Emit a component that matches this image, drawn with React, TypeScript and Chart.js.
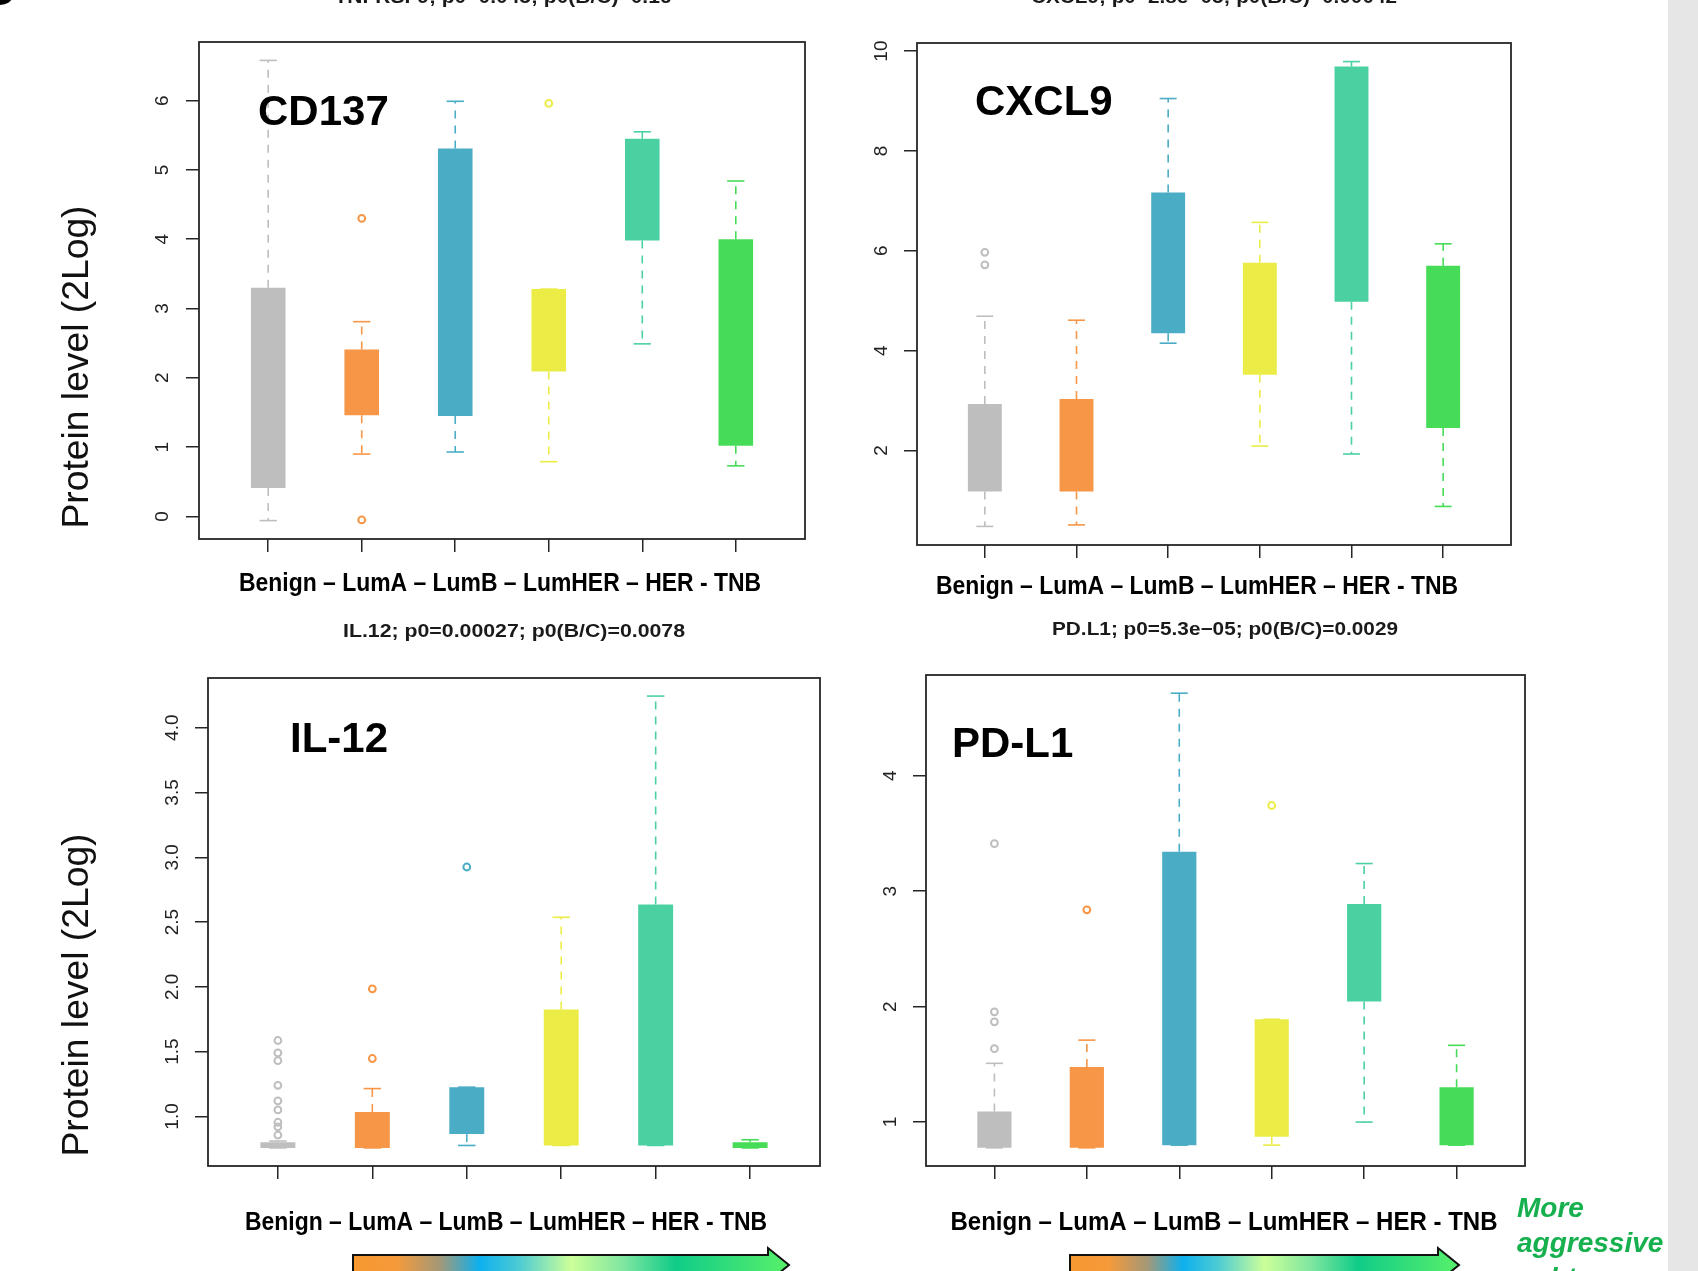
import React, { useEffect, useRef } from "react";
import { Chart, registerables } from "chart.js";

Chart.register(...registerables);

const PAGE_W = 1698;
const PAGE_H = 1271;

// ---------- data ----------
const groups = ["Benign", "LumA", "LumB", "LumHER", "HER", "TNB"];
const groupColors = ["#bebebe", "#f79646", "#4bacc6", "#ecec46", "#4bd1a1", "#47dc58"];
const xAxisText = "Benign \u2013 LumA \u2013 LumB \u2013 LumHER \u2013 HER - TNB";
const yAxisText = "Protein level (2Log)";

// CD137 (TNFRSF9)
const cd137Low = [-0.06, 0.9, 0.93, 0.79, 2.49, 0.73];
const cd137Q1 = [0.41, 1.46, 1.45, 2.09, 3.98, 1.02];
const cd137Q3 = [3.3, 2.41, 5.31, 3.28, 5.45, 4.0];
const cd137High = [6.58, 2.81, 5.99, 3.28, 5.55, 4.84];
const cd137OutGroup = [1, 1, 3];
const cd137OutValue = [4.3, -0.05, 5.96];
const cd137Ticks = [0, 1, 2, 3, 4, 5, 6];
const cd137TickLabels = ["0", "1", "2", "3", "4", "5", "6"];

// CXCL9
const cxcl9Low = [0.48, 0.51, 4.15, 2.09, 1.93, 0.88];
const cxcl9Q1 = [1.18, 1.18, 4.35, 3.52, 4.98, 2.45];
const cxcl9Q3 = [2.93, 3.03, 7.17, 5.76, 9.69, 5.7];
const cxcl9High = [4.69, 4.61, 9.05, 6.57, 9.79, 6.14];
const cxcl9OutGroup = [0, 0];
const cxcl9OutValue = [5.97, 5.72];
const cxcl9Ticks = [2, 4, 6, 8, 10];
const cxcl9TickLabels = ["2", "4", "6", "8", "10"];

// IL-12
const il12Low = [0.757, 0.757, 0.776, 0.776, 0.776, 0.757];
const il12Q1 = [0.757, 0.757, 0.864, 0.776, 0.776, 0.757];
const il12Q3 = [0.8, 1.034, 1.226, 1.826, 2.636, 0.8];
const il12High = [0.81, 1.215, 1.226, 2.537, 4.244, 0.82];
const il12OutGroup = [0, 0, 0, 0, 0, 0, 0, 0, 0, 1, 1, 2];
const il12OutValue = [1.586, 1.49, 1.43, 1.24, 1.12, 1.05, 0.955, 0.92, 0.856, 1.985, 1.447, 2.925];
const il12Ticks = [1.0, 1.5, 2.0, 2.5, 3.0, 3.5, 4.0];
const il12TickLabels = ["1.0", "1.5", "2.0", "2.5", "3.0", "3.5", "4.0"];

// PD-L1
const pdl1Low = [0.777, 0.777, 0.8, 0.8, 1.0, 0.8];
const pdl1Q1 = [0.777, 0.777, 0.8, 0.873, 2.044, 0.8];
const pdl1Q3 = [1.092, 1.477, 3.342, 1.891, 2.89, 1.302];
const pdl1High = [1.509, 1.71, 4.716, 1.891, 3.24, 1.665];
const pdl1OutGroup = [0, 0, 0, 0, 1, 3];
const pdl1OutValue = [3.412, 1.955, 1.869, 1.636, 2.839, 3.743];
const pdl1Ticks = [1, 2, 3, 4];
const pdl1TickLabels = ["1", "2", "3", "4"];

// ---------- layout / style ----------
const FONT = '"Liberation Sans", Arial, Helvetica, sans-serif';
const AXIS_COLOR = "#262626";
const BOX_FRACTION = 0.37;
const CAP_HALF = BOX_FRACTION / 4;
const TICK_LEN = 13;
const Y_AXIS_W = 80;
const X_AXIS_H = 40;
const TICK_FONT_SIZE = 19;

type Area = { left: number; top: number; right: number; bottom: number };
type PanelDef = {
  id: string;
  low: number[];
  q1: number[];
  q3: number[];
  high: number[];
  outGroup: number[];
  outValue: number[];
  ticks: number[];
  tickLabels: string[];
  area: Area;
  tickPad: number;
  title: string;
  titleX: number;
  titleBase: number;
  titleWidth: number;
  gene: string;
  geneX: number;
  geneBase: number;
  xLabelX: number;
  xLabelBase: number;
  xLabelWidth: number;
  yTitle?: { x: number; y: number; width: number };
};

const panels: PanelDef[] = [
  {
    id: "cd137",
    low: cd137Low, q1: cd137Q1, q3: cd137Q3, high: cd137High,
    outGroup: cd137OutGroup, outValue: cd137OutValue,
    ticks: cd137Ticks, tickLabels: cd137TickLabels,
    area: { left: 199, top: 42, right: 805, bottom: 539 },
    tickPad: 18,
    title: "TNFRSF9; p0=0.045; p0(B/C)=0.16",
    titleX: 503, titleBase: 2.5, titleWidth: 337,
    gene: "CD137", geneX: 258, geneBase: 125,
    xLabelX: 500, xLabelBase: 591, xLabelWidth: 522,
    yTitle: { x: 78, y: 367, width: 323 },
  },
  {
    id: "cxcl9",
    low: cxcl9Low, q1: cxcl9Q1, q3: cxcl9Q3, high: cxcl9High,
    outGroup: cxcl9OutGroup, outValue: cxcl9OutValue,
    ticks: cxcl9Ticks, tickLabels: cxcl9TickLabels,
    area: { left: 917, top: 43, right: 1511, bottom: 545 },
    tickPad: 11.5,
    title: "CXCL9; p0=2.8e\u221205; p0(B/C)=0.00042",
    titleX: 1214, titleBase: 2.5, titleWidth: 366,
    gene: "CXCL9", geneX: 975, geneBase: 115,
    xLabelX: 1197, xLabelBase: 594, xLabelWidth: 522,
  },
  {
    id: "il12",
    low: il12Low, q1: il12Q1, q3: il12Q3, high: il12High,
    outGroup: il12OutGroup, outValue: il12OutValue,
    ticks: il12Ticks, tickLabels: il12TickLabels,
    area: { left: 208, top: 678, right: 820, bottom: 1166 },
    tickPad: 9,
    title: "IL.12; p0=0.00027; p0(B/C)=0.0078",
    titleX: 514, titleBase: 637, titleWidth: 342,
    gene: "IL-12", geneX: 290, geneBase: 752,
    xLabelX: 506, xLabelBase: 1230, xLabelWidth: 522,
    yTitle: { x: 78, y: 995, width: 323 },
  },
  {
    id: "pdl1",
    low: pdl1Low, q1: pdl1Q1, q3: pdl1Q3, high: pdl1High,
    outGroup: pdl1OutGroup, outValue: pdl1OutValue,
    ticks: pdl1Ticks, tickLabels: pdl1TickLabels,
    area: { left: 926, top: 675, right: 1525, bottom: 1166 },
    tickPad: 16.5,
    title: "PD.L1; p0=5.3e\u221205; p0(B/C)=0.0029",
    titleX: 1225, titleBase: 635, titleWidth: 346,
    gene: "PD-L1", geneX: 952, geneBase: 757,
    xLabelX: 1224, xLabelBase: 1230, xLabelWidth: 547,
  },
];

function drawText(
  ctx: CanvasRenderingContext2D,
  text: string,
  x: number,
  y: number,
  font: string,
  color: string,
  opts: { width?: number; align?: CanvasTextAlign; baseline?: CanvasTextBaseline; rotate?: number } = {}
) {
  ctx.save();
  ctx.font = font;
  ctx.fillStyle = color;
  ctx.textAlign = opts.align || "center";
  ctx.textBaseline = opts.baseline || "alphabetic";
  ctx.translate(x, y);
  if (opts.rotate) ctx.rotate(opts.rotate);
  if (opts.width) {
    const w = ctx.measureText(text).width;
    if (w > 0) ctx.scale(opts.width / w, 1);
  }
  ctx.fillText(text, 0, 0);
  ctx.restore();
}

const panelTextPlugin = {
  id: "panelText",
  afterDraw(chart: any, _args: any, opts: any) {
    const def: PanelDef = opts.def;
    if (!def) return;
    const ctx: CanvasRenderingContext2D = chart.ctx;
    const a = chart.chartArea;
    // frame around plot region
    ctx.save();
    ctx.strokeStyle = AXIS_COLOR;
    ctx.lineWidth = 1.8;
    ctx.strokeRect(a.left, a.top, a.right - a.left, a.bottom - a.top);
    ctx.restore();
    // panel title (statistics)
    drawText(ctx, def.title, def.titleX, def.titleBase, `bold 18px ${FONT}`, "#1a1a1a", {
      width: def.titleWidth,
    });
    // big gene label
    drawText(ctx, def.gene, def.geneX, def.geneBase, `bold 42px ${FONT}`, "#000", { align: "left" });
    // category label
    drawText(ctx, xAxisText, def.xLabelX, def.xLabelBase, `bold 25px ${FONT}`, "#000", {
      width: def.xLabelWidth,
    });
    // y-axis title
    if (def.yTitle) {
      drawText(ctx, yAxisText, def.yTitle.x, def.yTitle.y, `36px ${FONT}`, "#111", {
        width: def.yTitle.width,
        baseline: "middle",
        rotate: -Math.PI / 2,
      });
    }
  },
};

function buildConfig(def: PanelDef): any {
  const n = groups.length;
  const all = [...def.low, ...def.high, ...def.outValue];
  const lo = Math.min(...all);
  const hi = Math.max(...all);
  const yExt = (hi - lo) * 0.04;
  const xExt = n * 0.04;

  const boxData = groups.map((_, i) => ({ x: i + 1, y: [def.q1[i], def.q3[i]] }));
  const stemData: any[] = [];
  const capData: any[] = [];
  groups.forEach((_, i) => {
    const c = i + 1;
    stemData.push(
      { x: c, y: def.q3[i] }, { x: c, y: def.high[i] }, { x: c, y: null },
      { x: c, y: def.q1[i] }, { x: c, y: def.low[i] }, { x: c, y: null }
    );
    capData.push(
      { x: c - CAP_HALF, y: def.high[i] }, { x: c + CAP_HALF, y: def.high[i] }, { x: c, y: null },
      { x: c - CAP_HALF, y: def.low[i] }, { x: c + CAP_HALF, y: def.low[i] }, { x: c, y: null }
    );
  });
  const outData = def.outGroup.map((g, k) => ({ x: g + 1, y: def.outValue[k] }));
  const outColors = def.outGroup.map((g) => groupColors[g]);
  const segColor = (ctx: any) => groupColors[Math.floor(ctx.p0DataIndex / 6)];

  const gridOpts = {
    display: true,
    drawOnChartArea: false,
    drawTicks: true,
    tickLength: TICK_LEN,
    color: AXIS_COLOR,
    lineWidth: 1.5,
    offset: false,
  };

  return {
    type: "bar",
    data: {
      datasets: [
        {
          type: "scatter",
          label: "outliers",
          data: outData,
          pointStyle: "circle",
          pointRadius: 3.4,
          pointBorderWidth: 2,
          pointBorderColor: outColors,
          pointBackgroundColor: "rgba(0,0,0,0)",
          order: 0,
        },
        {
          type: "bar",
          label: "box",
          data: boxData,
          backgroundColor: groupColors,
          borderWidth: 0,
          barPercentage: BOX_FRACTION,
          categoryPercentage: 1,
          order: 1,
        },
        {
          type: "line",
          label: "whiskers",
          data: stemData,
          borderColor: groupColors[0],
          borderWidth: 1.6,
          borderDash: [8, 7],
          borderCapStyle: "butt",
          pointRadius: 0,
          spanGaps: false,
          tension: 0,
          segment: { borderColor: segColor },
          order: 2,
        },
        {
          type: "line",
          label: "caps",
          data: capData,
          borderColor: groupColors[0],
          borderWidth: 1.6,
          borderCapStyle: "butt",
          pointRadius: 0,
          spanGaps: false,
          tension: 0,
          segment: { borderColor: segColor },
          order: 2,
        },
      ],
    },
    options: {
      responsive: false,
      maintainAspectRatio: false,
      animation: false,
      events: [],
      devicePixelRatio: 1,
      layout: {
        padding: {
          left: def.area.left - Y_AXIS_W,
          top: def.area.top,
          right: PAGE_W - def.area.right,
          bottom: PAGE_H - def.area.bottom - X_AXIS_H,
        },
      },
      plugins: {
        legend: { display: false },
        tooltip: { enabled: false },
        title: { display: false },
        panelText: { def },
      },
      scales: {
        x: {
          type: "linear",
          position: "bottom",
          min: 0.5 - xExt,
          max: n + 0.5 + xExt,
          offset: false,
          grid: gridOpts,
          border: { display: false },
          ticks: { display: false, autoSkip: false },
          afterBuildTicks: (scale: any) => {
            scale.ticks = groups.map((_, i) => ({ value: i + 1 }));
          },
          afterFit: (scale: any) => {
            scale.height = X_AXIS_H;
          },
        },
        y: {
          type: "linear",
          position: "left",
          min: lo - yExt,
          max: hi + yExt,
          beginAtZero: false,
          grid: gridOpts,
          border: { display: false },
          ticks: {
            autoSkip: false,
            minRotation: 90,
            maxRotation: 90,
            crossAlign: "center",
            padding: def.tickPad,
            color: "#222",
            font: { family: FONT, size: TICK_FONT_SIZE },
            callback: (_v: any, i: number) => def.tickLabels[i],
          },
          afterBuildTicks: (scale: any) => {
            scale.ticks = def.ticks.map((v) => ({ value: v }));
          },
          afterFit: (scale: any) => {
            scale.width = Y_AXIS_W;
          },
        },
      },
    },
    plugins: [panelTextPlugin],
  };
}

function PanelChart({ def }: { def: PanelDef }) {
  const ref = useRef<HTMLCanvasElement>(null);
  useEffect(() => {
    if (!ref.current) return;
    const chart = new Chart(ref.current, buildConfig(def));
    return () => chart.destroy();
  }, [def]);
  return (
    <canvas
      ref={ref}
      width={PAGE_W}
      height={PAGE_H}
      style={{ position: "absolute", left: 0, top: 0, width: PAGE_W, height: PAGE_H }}
    />
  );
}

function Arrow({ x0, x1, id }: { x0: number; x1: number; id: string }) {
  const head = 21;
  const yc = 1265;
  const pts = [
    [x0, yc - 10],
    [x1 - head, yc - 10],
    [x1 - head, yc - 17],
    [x1, yc],
    [x1 - head, yc + 17],
    [x1 - head, yc + 10],
    [x0, yc + 10],
  ]
    .map((p) => p.join(","))
    .join(" ");
  return (
    <g>
      <defs>
        <linearGradient id={id} x1="0" y1="0" x2="1" y2="0">
          <stop offset="0" stopColor="#f7982f" />
          <stop offset="0.1" stopColor="#f59a3a" />
          <stop offset="0.2" stopColor="#a39878" />
          <stop offset="0.29" stopColor="#0db0ee" />
          <stop offset="0.38" stopColor="#4ccbd4" />
          <stop offset="0.5" stopColor="#ccff99" />
          <stop offset="0.62" stopColor="#7fe6a0" />
          <stop offset="0.74" stopColor="#10cc88" />
          <stop offset="1" stopColor="#58f06a" />
        </linearGradient>
      </defs>
      <polygon points={pts} fill={`url(#${id})`} stroke="#111" strokeWidth={2} strokeLinejoin="miter" />
    </g>
  );
}

export default function App() {
  return (
    <div
      style={{
        position: "absolute",
        left: 0,
        top: 0,
        width: PAGE_W,
        height: PAGE_H,
        overflow: "hidden",
        background: "#ffffff",
      }}
    >
      {panels.map((p) => (
        <PanelChart key={p.id} def={p} />
      ))}
      <svg
        width={PAGE_W}
        height={PAGE_H}
        style={{ position: "absolute", left: 0, top: 0, pointerEvents: "none" }}
      >
        <Arrow x0={353} x1={789} id="gradL" />
        <Arrow x0={1070} x1={1459} id="gradR" />
      </svg>
      <div
        style={{
          position: "absolute",
          left: 1517,
          top: 1190,
          width: 160,
          fontFamily: FONT,
          fontWeight: "bold",
          fontStyle: "italic",
          fontSize: 28,
          lineHeight: "35px",
          color: "#16b04e",
          whiteSpace: "pre",
        }}
      >
        {"More\naggressive\nsubtypes"}
      </div>
      <div
        style={{
          position: "absolute",
          left: -17,
          top: -32,
          fontFamily: FONT,
          fontWeight: "bold",
          fontSize: 44,
          lineHeight: "44px",
          color: "#000",
        }}
      >
        C
      </div>
      <div
        style={{
          position: "absolute",
          left: 1668,
          top: 0,
          width: PAGE_W - 1668,
          height: PAGE_H,
          background: "#e6e6e6",
        }}
      />
    </div>
  );
}
